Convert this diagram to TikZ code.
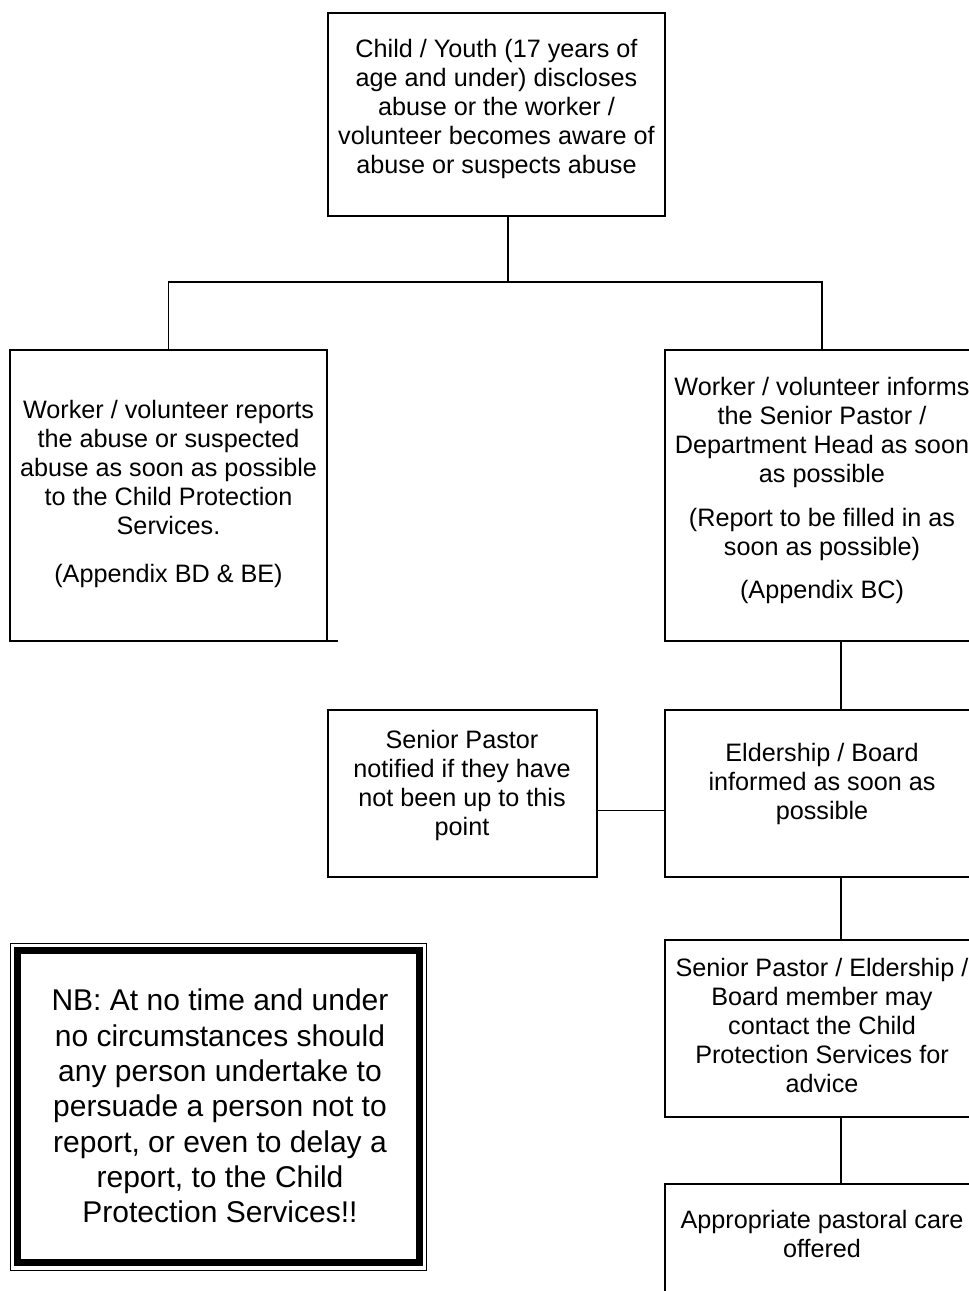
\documentclass[tikz,border=0pt]{standalone}
\usepackage{fontspec}
\setmainfont{Liberation Sans}
\usepackage{tikz}
\usetikzlibrary{positioning}

\tikzset{
  box/.style={draw, line width=1.6pt, inner sep=0pt, outer sep=0pt,
    anchor=north west, minimum width=#1},
  txt/.style={font=\fontsize{25.2}{29}\selectfont, align=center, inner sep=0pt,
    anchor=north},
  link/.style={line width=1.6pt},
}

\begin{document}
\begin{tikzpicture}[x=1pt, y=-1pt]
        \useasboundingbox (0,0) rectangle (969,1291);
        \clip (0,0) rectangle (969,1291);

        % Riquadri (angolo in alto a sinistra, in pixel)
        \node[box=337, minimum height=203] (start)  at (328,13)  {};
        \node[box=317, minimum height=291] (report) at (10,350)  {};
        \node[box=314, minimum height=291] (inform) at (665,350) {};
        \node[box=269, minimum height=167] (pastor) at (328,710) {};
        \node[box=352, minimum height=167] (elders) at (665,710) {};
        \node[box=352, minimum height=177] (advice) at (665,940) {};
        \node[box=352, minimum height=200] (care)   at (665,1184) {};

        % Testi
        \node[txt] (starttxt) at (496.5,39) {Child / Youth (17 years of\\
          age and under) discloses\\ abuse or the worker /\\
          volunteer becomes aware of\\ abuse or suspects abuse};
        \node[txt] (reporttxt) at (168.5,400) {Worker / volunteer reports\\
          the abuse or suspected\\ abuse as soon as possible\\
          to the Child Protection\\ Services.\\[19pt] (Appendix BD \& BE)};
        \node[txt] (informtxt) at (822,377) {Worker / volunteer informs\\
          the Senior Pastor /\\ Department Head as soon\\ as possible\\[15pt]
          (Report to be filled in as\\ soon as possible)\\[14pt] (Appendix BC)};
        \node[txt] (pastortxt) at (462,730) {Senior Pastor\\ notified if they have\\
          not been up to this\\ point};
        \node[txt] (elderstxt) at (822,743) {Eldership / Board\\
          informed as soon as\\ possible};
        \node[txt] (advicetxt) at (822,958) {Senior Pastor / Eldership /\\
          Board member may\\ contact the Child\\ Protection Services for\\ advice};
        \node[txt] (caretxt) at (822,1210) {Appropriate pastoral care\\ offered};

        % Collegamenti
        \draw[link] ([xshift=11.5pt]start.south) -- ++(0,66) coordinate (fork);
        \draw[link] (report.north) |- (fork) -| (inform.north);
        \draw[link] (inform.south -| elders.north) -- (elders.north);
        \draw[link] ([yshift=-17pt]pastor.east) -- ([yshift=-17pt]pastor.east -| elders.west);
        \draw[link] (elders.south) -- (advice.north);
        \draw[link] (advice.south) -- (care.north);
        \draw[link] (report.south east) -- ++(11,0);

        % Avviso NB
        \node[draw, line width=1pt, inner sep=0pt, outer sep=0pt, anchor=north west,
          minimum width=416, minimum height=327] (nbframe) at (10,943) {};
        \node[draw, line width=7pt, inner sep=0pt, outer sep=0pt, anchor=north west,
          minimum width=402, minimum height=312] (nbbox) at (17,950.5) {};
        \node[txt, font=\fontsize{30}{35.3}\selectfont] (nbtxt) at (220,989)
          {NB: At no time and under\\ no circumstances should\\
          any person undertake to\\ persuade a person not to\\
          report, or even to delay a\\ report, to the Child\\
          Protection Services!!};
    \end{tikzpicture}
\end{document}
